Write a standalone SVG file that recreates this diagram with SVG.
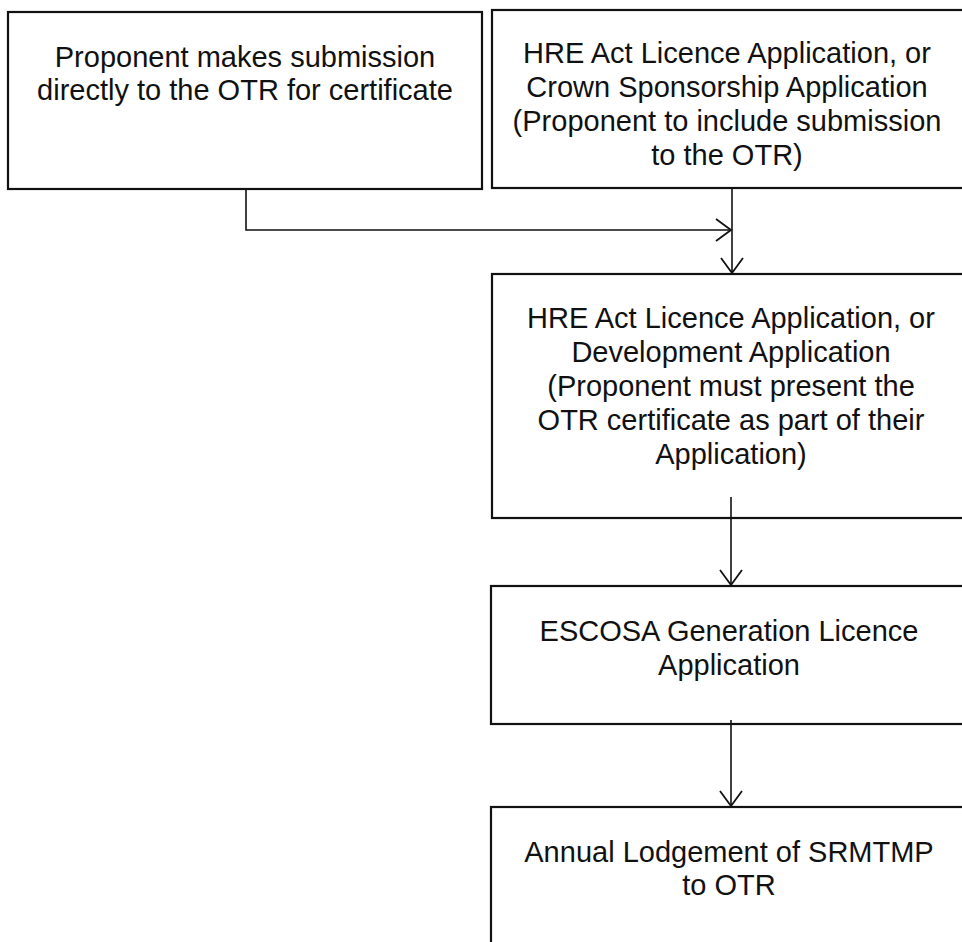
<svg xmlns="http://www.w3.org/2000/svg" width="962" height="942" viewBox="0 0 962 942">
<style>
.box{fill:#fff;stroke:#111;stroke-width:2.2}
.t{font-family:"Liberation Sans",Arial,sans-serif;font-size:29px;fill:#111;text-anchor:middle}
.c{fill:none;stroke:#111;stroke-width:1.6}
</style>
<defs>
<marker id="arr" markerUnits="userSpaceOnUse" markerWidth="30" markerHeight="30" refX="16" refY="12" orient="auto">
<path d="M1,1 L16,12 L1,23" fill="none" stroke="#111" stroke-width="1.8"/>
</marker>
</defs>
<rect width="962" height="942" fill="#fff"/>
<g id="n1">
<rect class="box" x="8" y="12" width="474" height="177"/>
<text class="t" x="245" y="67">Proponent makes submission</text>
<text class="t" x="245" y="100">directly to the OTR for certificate</text>
</g>
<g id="n2">
<rect class="box" x="492" y="10" width="485" height="178"/>
<text class="t" x="727" y="63">HRE Act Licence Application, or</text>
<text class="t" x="727" y="97">Crown Sponsorship Application</text>
<text class="t" x="727" y="131">(Proponent to include submission</text>
<text class="t" x="727" y="165">to the OTR)</text>
</g>
<g id="n3">
<rect class="box" x="492" y="274" width="485" height="244"/>
<text class="t" x="731" y="328">HRE Act Licence Application, or</text>
<text class="t" x="731" y="362">Development Application</text>
<text class="t" x="731" y="396">(Proponent must present the</text>
<text class="t" x="731" y="430">OTR certificate as part of their</text>
<text class="t" x="731" y="464">Application)</text>
</g>
<g id="n4">
<rect class="box" x="491" y="586" width="486" height="138"/>
<text class="t" x="729" y="641">ESCOSA Generation Licence</text>
<text class="t" x="729" y="675">Application</text>
</g>
<g id="n5">
<rect class="box" x="491" y="807" width="486" height="150"/>
<text class="t" x="729" y="862">Annual Lodgement of SRMTMP</text>
<text class="t" x="729" y="895">to OTR</text>
</g>
<g id="connectors">
<path class="c" d="M246,189 V230 H731" marker-end="url(#arr)"/>
<path class="c" d="M732,188 V273" marker-end="url(#arr)"/>
<path class="c" d="M731,497 V585" marker-end="url(#arr)"/>
<path class="c" d="M731,720 V806" marker-end="url(#arr)"/>
</g>
</svg>
